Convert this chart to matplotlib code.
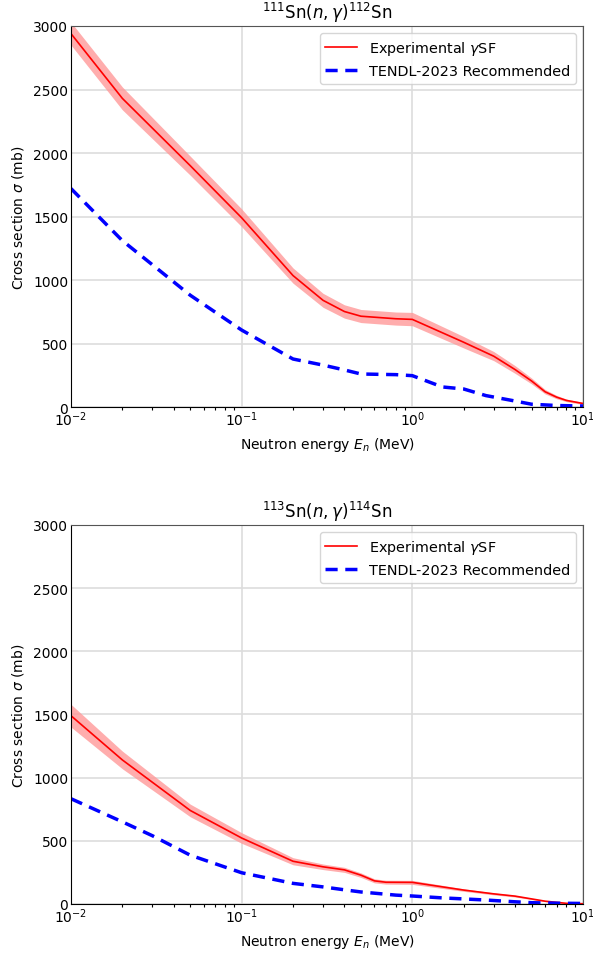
import numpy as np
import matplotlib.pyplot as plt

# 111Sn(n,g) experimental gSF (energies in MeV)
sn111_e = [0.01, 0.02, 0.05, 0.1, 0.2, 0.3, 0.4, 0.5, 0.8, 1.0, 2.0, 3.0, 4.0, 5.0, 6.0, 7.0, 8.0, 10.0]
sn111_exp = [2940, 2430, 1900, 1490, 1035, 840, 752, 715, 695, 690, 510, 400, 295, 205, 120, 78, 52, 28]
sn111_lo = [2850, 2340, 1825, 1420, 975, 785, 700, 665, 645, 640, 465, 365, 265, 182, 103, 65, 42, 20]
sn111_hi = [3030, 2520, 1975, 1560, 1095, 895, 805, 768, 748, 745, 555, 437, 326, 228, 138, 92, 62, 36]

# 113Sn(n,g) experimental gSF
sn113_e = [0.01, 0.02, 0.05, 0.1, 0.2, 0.3, 0.4, 0.5, 0.6, 0.7, 1.0, 2.0, 3.0, 4.0, 5.0, 6.0, 8.0, 10.0]
sn113_exp = [1490, 1140, 740, 522, 338, 294, 270, 228, 183, 172, 171, 110, 80, 62, 40, 22, 5, 2]
sn113_lo = [1400, 1070, 690, 480, 310, 272, 250, 210, 167, 157, 155, 100, 72, 55, 35, 18, 3, 1]
sn113_hi = [1580, 1210, 790, 564, 366, 316, 290, 246, 199, 188, 187, 120, 88, 69, 45, 26, 7, 3]

# TENDL-2023 recommended
e_tendl = [0.01, 0.02, 0.03, 0.05, 0.1, 0.2, 0.3, 0.4, 0.5, 0.8, 1.0, 1.5, 2.0, 2.7, 3.9, 5.0, 7.0, 10.0]
sn111_tendl = [1720, 1310, 1120, 880, 606, 378, 330, 292, 260, 255, 247, 158, 142, 90, 50, 22, 12, 8]
sn113_tendl = [833, 650, 540, 386, 247, 163, 135, 112, 95, 70, 63, 48, 40, 31, 18, 10, 6, 4]

panels = [
    (r'$^{111}$Sn$(n,\gamma)^{112}$Sn', sn111_e, sn111_exp, sn111_lo, sn111_hi, sn111_tendl),
    (r'$^{113}$Sn$(n,\gamma)^{114}$Sn', sn113_e, sn113_exp, sn113_lo, sn113_hi, sn113_tendl),
]

fig = plt.figure(figsize=(5.93, 9.54), dpi=100)
boxes = [[0.1197, 0.5723, 0.8634, 0.3994], [0.1197, 0.0514, 0.8634, 0.3973]]

for box, (title, e, y, lo, hi, tendl) in zip(boxes, panels):
    ax = fig.add_axes(box)
    ax.fill_between(e, lo, hi, color='#ff9999', alpha=0.8, linewidth=0)
    ax.plot(e, y, color='red', lw=1.2, label=r'Experimental $\gamma$SF')
    ax.plot(e_tendl, tendl, color='blue', lw=2.5, ls=(0, (3.5, 2.2)), label='TENDL-2023 Recommended')
    ax.set_xscale('log')
    ax.set_xlim(0.01, 10)
    ax.set_ylim(0, 3000)
    ax.set_yticks([0, 500, 1000, 1500, 2000, 2500, 3000])
    ax.grid(True, which='major', color='#dddddd', lw=1.2)
    ax.set_axisbelow(True)
    for s in ['top', 'right']:
        ax.spines[s].set_color('#555555')
    ax.tick_params(which='major', length=0, pad=2, labelsize=10)
    ax.tick_params(which='minor', length=2, width=0.8)
    ax.set_title(title, fontsize=12)
    ax.set_xlabel(r'Neutron energy $E_n$ (MeV)', fontsize=10, labelpad=5)
    ax.set_ylabel(r'Cross section $\sigma$ (mb)', fontsize=10, labelpad=5)
    ax.legend(loc='upper right', fontsize=10.4, handlelength=2.2)

fig.savefig('out.png', dpi=100)
